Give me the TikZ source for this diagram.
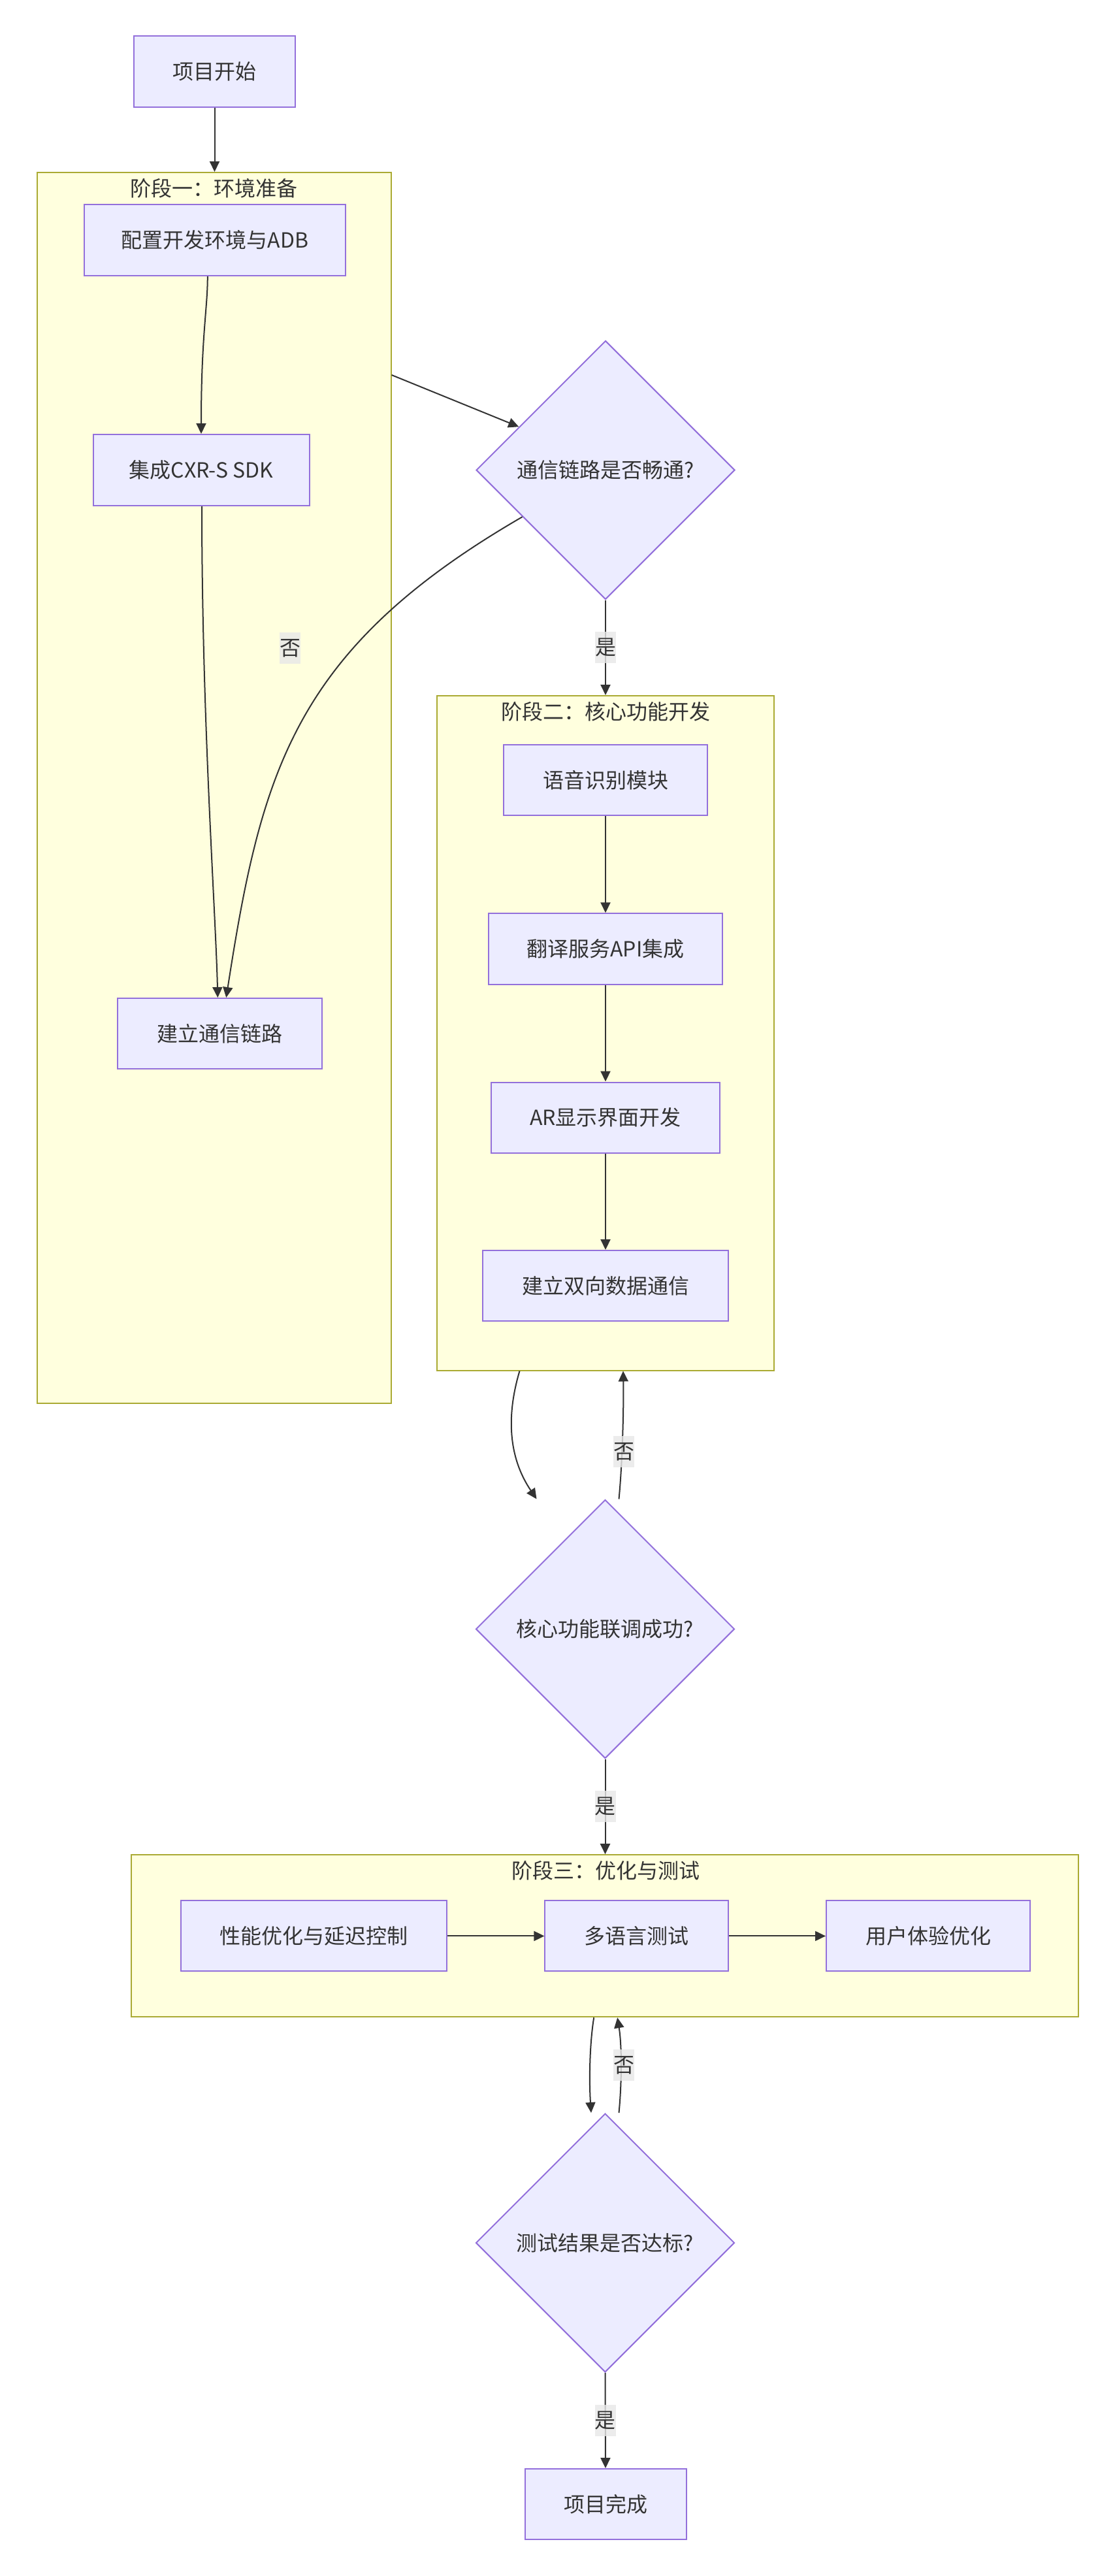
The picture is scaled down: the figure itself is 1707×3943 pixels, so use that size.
\documentclass[tikz,border=0pt]{standalone}
\usepackage{fontspec}
\setmainfont{Noto Sans CJK SC}
\usetikzlibrary{shapes.geometric, arrows.meta, calc}
\definecolor{nodefill}{HTML}{ECECFF}
\definecolor{nodeline}{HTML}{9370DB}
\definecolor{clfill}{HTML}{FFFFDE}
\definecolor{clline}{HTML}{AAAA33}
\definecolor{edgec}{HTML}{333333}
\definecolor{txt}{HTML}{333333}
\definecolor{lblbg}{HTML}{E8E8E8}
\begin{document}
\begin{tikzpicture}[x=1pt,y=-1pt,
  every node/.style={font=\fontsize{32}{38}\selectfont, text=txt},
  box/.style={draw=nodeline, fill=nodefill, line width=2pt, rectangle, inner sep=0pt},
  dec/.style={draw=nodeline, fill=nodefill, line width=2pt, diamond, aspect=1, minimum width=396pt, minimum height=396pt, inner sep=0pt},
  cluster/.style={draw=clline, fill=clfill, line width=2pt, rectangle, inner sep=0pt},
  ttl/.style={inner sep=0pt},
  lbl/.style={fill=lblbg, fill opacity=0.8, text opacity=1, minimum width=32pt, minimum height=48pt, inner sep=0pt},
  conn/.style={draw=edgec, line width=2pt, -{Triangle[length=16pt,width=15pt]}},
]
\useasboundingbox[fill=white] (0,0) rectangle (1707,3943);

% clusters
\node[cluster, minimum width=542pt, minimum height=1884pt] (s1) at (327.6,1206) {};
\node[ttl] (s1t) at (327.5,288) {阶段一：环境准备};
\node[cluster, minimum width=516pt, minimum height=1032.5pt] (s2) at (926.5,1581.25) {};
\node[ttl] (s2t) at (927,1089) {阶段二：核心功能开发};
\node[cluster, minimum width=1450pt, minimum height=248pt] (s3) at (926.2,2963.2) {};
\node[ttl] (s3t) at (927,2863) {阶段三：优化与测试};

% nodes
\node[box, minimum width=247pt, minimum height=109pt] (start) at (328.5,109.5) {项目开始};
\node[box, minimum width=400.5pt, minimum height=109pt] (n1) at (328.8,367.5) {配置开发环境与ADB};
\node[box, minimum width=331pt, minimum height=109pt] (n2) at (308,719.5) {集成CXR-S SDK};
\node[box, minimum width=313.4pt, minimum height=108pt] (n3) at (336.3,1582) {建立通信链路};
\node[dec] (d1) at (927,719.5) {通信链路是否畅通?};
\node[box, minimum width=312pt, minimum height=108.5pt] (m1) at (927,1194) {语音识别模块};
\node[box, minimum width=358pt, minimum height=108.5pt] (m2) at (927,1452.5) {翻译服务API集成};
\node[box, minimum width=350pt, minimum height=108pt] (m3) at (927,1710.5) {AR显示界面开发};
\node[box, minimum width=376pt, minimum height=108pt] (m4) at (927,1968) {建立双向数据通信};
\node[dec] (d2) at (926.5,2493.5) {核心功能联调成功?};
\node[box, minimum width=407.5pt, minimum height=108pt] (p1) at (480.25,2963.4) {性能优化与延迟控制};
\node[box, minimum width=280.5pt, minimum height=108pt] (p2) at (974.7,2963.4) {多语言测试};
\node[box, minimum width=312.4pt, minimum height=108pt] (p3) at (1421.2,2963.4) {用户体验优化};
\node[dec] (d3) at (926.5,3433) {测试结果是否达标?};
\node[box, minimum width=247pt, minimum height=108pt] (fin) at (927,3833) {项目完成};

% edges
\draw[conn] (start.south) -- (start.south |- s1.north);
\draw[conn] ([xshift=-11pt]n1.south) .. controls +(0,50) and +(0,-150) .. (n2.north);
\draw[conn] ([xshift=1pt]n2.south) .. controls +(0,330) and +(-3,-130) .. ([xshift=-3pt]n3.north);
\draw[conn] ($(s1.north east)+(0,311)$) -- ($(d1.west)!0.333!(d1.north)$);
\draw[conn] ($(d1.west)!0.36!(d1.south)$) .. controls +(-349,202) and +(54,-348) .. ([xshift=10pt]n3.north);
\node[lbl] (l1) at (444,992) {否};
\draw[conn] (d1.south) -- node[lbl] (l2) {是} (d1.south |- s2.north);
\draw[conn] (m1.south) -- (m2.north);
\draw[conn] (m2.south) -- (m3.north);
\draw[conn] (m3.south) -- (m4.north);
\draw[conn] ([xshift=-131pt]s2.south) .. controls +(-20,67) and +(-44,-65) .. ([xshift=-105pt]d2.north);
\draw[conn] ([xshift=21pt]d2.north) .. controls +(5.5,-55.5) and +(1,52.5) .. ([xshift=27.5pt]s2.south);
\node[lbl] (l3) at (955,2222) {否};
\draw[conn] (d2.south) -- node[lbl] (l4) {是} (d2.south |- s3.north);
\draw[conn] (p1.east) -- (p2.west);
\draw[conn] (p2.east) -- (p3.west);
\draw[conn] ([xshift=-17pt]s3.south) .. controls +(-7,43) and +(-3,-45.5) .. ([xshift=-21.5pt]d3.north);
\draw[conn] ([xshift=21pt]d3.north) .. controls +(4.5,-45.5) and +(7,43) .. ([xshift=19pt]s3.south);
\node[lbl] (l5) at (955,3161) {否};
\draw[conn] (d3.south) -- node[lbl] (l6) {是} (fin.north);
\end{tikzpicture}
\end{document}
